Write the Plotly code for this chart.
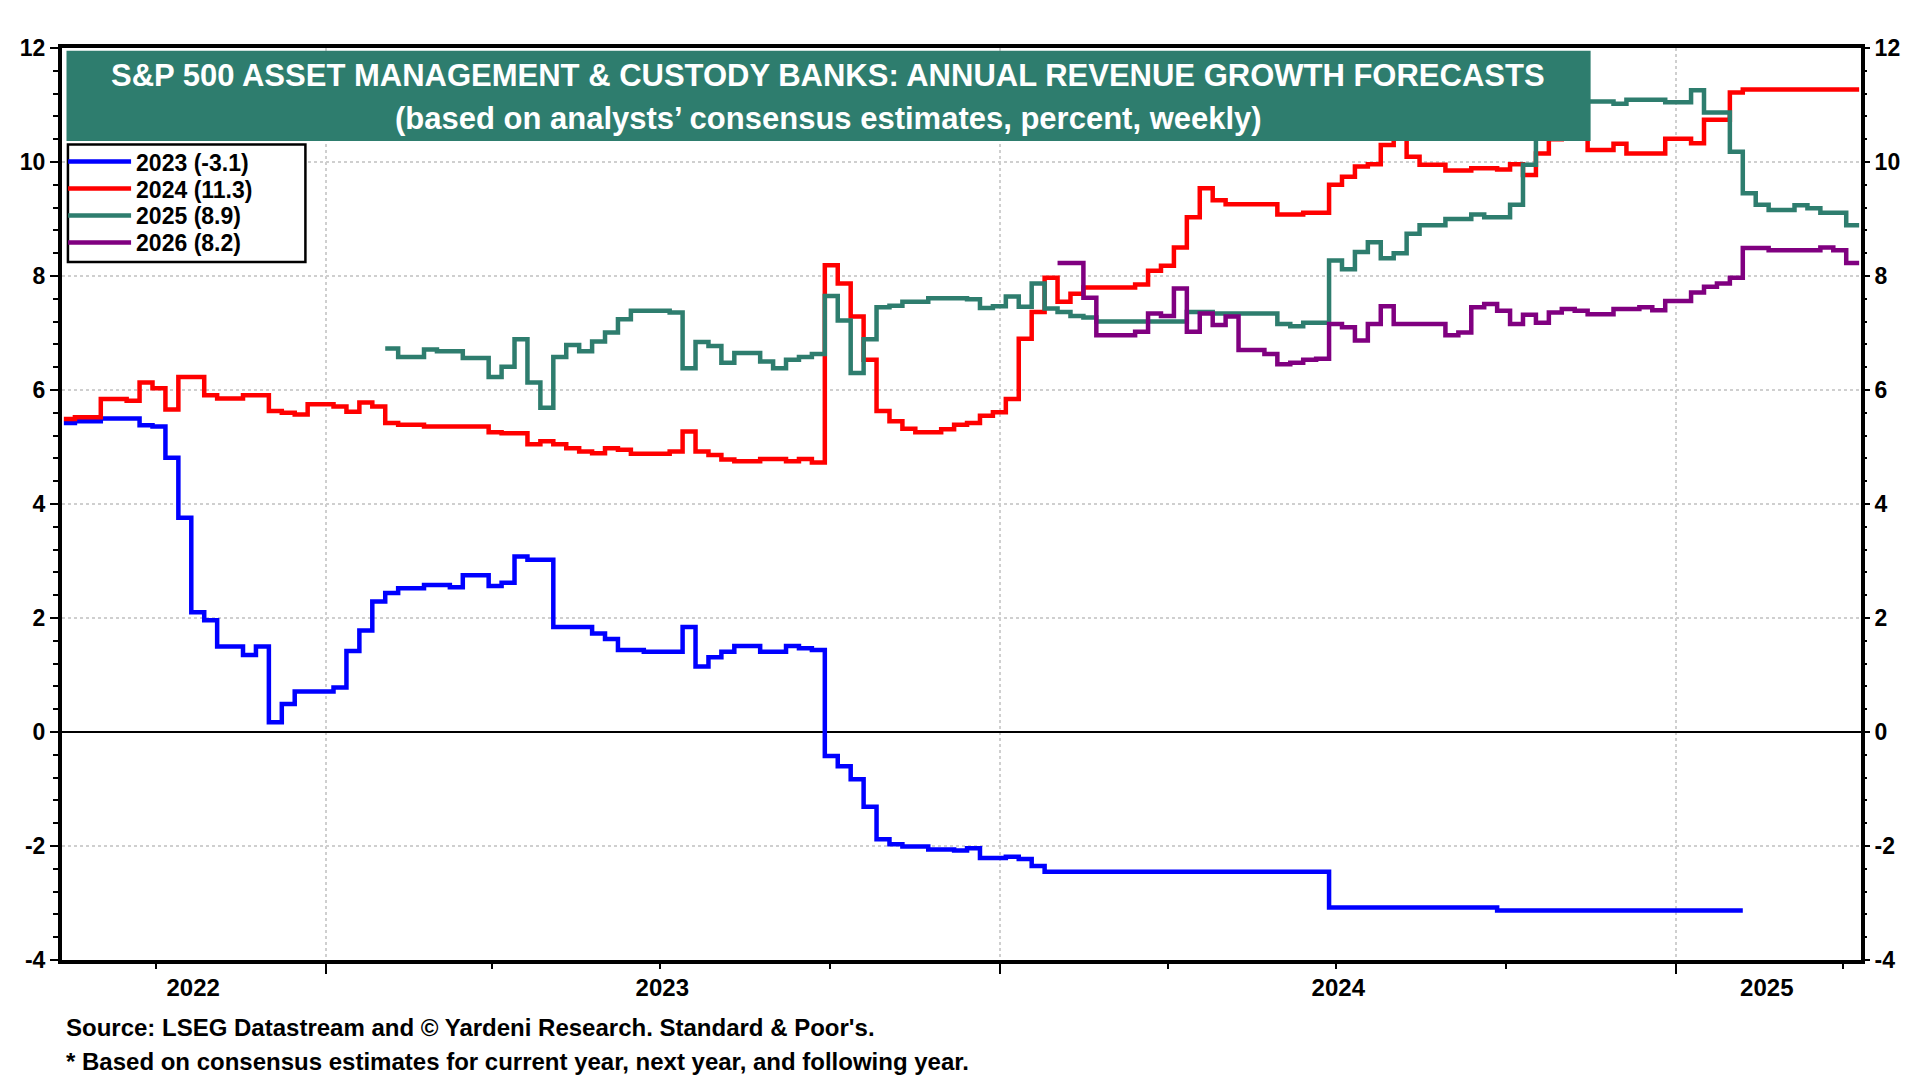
import plotly.graph_objects as go

# ---------------- data (weekly forecasts, change points) ----------------
blue_dates = ["2022-08-12", "2022-08-18", "2022-09-01", "2022-09-22", "2022-09-29", "2022-10-06",
              "2022-10-13", "2022-10-20", "2022-10-27", "2022-11-03", "2022-11-17", "2022-11-24",
              "2022-12-01", "2022-12-08", "2022-12-15", "2023-01-05", "2023-01-12", "2023-01-19",
              "2023-01-26", "2023-02-02", "2023-02-09", "2023-02-23", "2023-03-09", "2023-03-16",
              "2023-03-30", "2023-04-06", "2023-04-13", "2023-04-20", "2023-05-04", "2023-05-25",
              "2023-06-01", "2023-06-08", "2023-06-22", "2023-07-13", "2023-07-20", "2023-07-27",
              "2023-08-03", "2023-08-10", "2023-08-24", "2023-09-07", "2023-09-14", "2023-09-21",
              "2023-09-28", "2023-10-05", "2023-10-12", "2023-10-19", "2023-10-26", "2023-11-02",
              "2023-11-09", "2023-11-23", "2023-12-07", "2023-12-14", "2023-12-21", "2024-01-04",
              "2024-01-11", "2024-01-18", "2024-01-25", "2024-06-27", "2024-09-26", "2025-02-06"]
blue_vals = [5.42, 5.45, 5.50, 5.38, 5.36, 4.81,
             3.76, 2.10, 1.96, 1.50, 1.35, 1.50,
             0.17, 0.49, 0.71, 0.78, 1.42, 1.78,
             2.29, 2.44, 2.52, 2.58, 2.54, 2.75,
             2.56, 2.62, 3.08, 3.02, 1.84, 1.73,
             1.63, 1.44, 1.41, 1.84, 1.15, 1.31,
             1.41, 1.51, 1.41, 1.51, 1.47, 1.44,
             -0.42, -0.60, -0.83, -1.31, -1.88, -1.97,
             -2.01, -2.06, -2.08, -2.04, -2.21, -2.19,
             -2.23, -2.35, -2.45, -3.08, -3.13, -3.13]

red_dates = ["2022-08-12", "2022-08-18", "2022-09-01", "2022-09-15", "2022-09-22", "2022-09-29",
             "2022-10-06", "2022-10-13", "2022-10-27", "2022-11-03", "2022-11-17", "2022-12-01",
             "2022-12-08", "2022-12-15", "2022-12-22", "2023-01-05", "2023-01-12", "2023-01-19",
             "2023-01-26", "2023-02-02", "2023-02-09", "2023-02-23", "2023-03-30", "2023-04-06",
             "2023-04-20", "2023-04-27", "2023-05-04", "2023-05-11", "2023-05-18", "2023-05-25",
             "2023-06-01", "2023-06-08", "2023-06-15", "2023-07-06", "2023-07-13", "2023-07-20",
             "2023-07-27", "2023-08-03", "2023-08-10", "2023-08-24", "2023-09-07", "2023-09-14",
             "2023-09-21", "2023-09-28", "2023-10-05", "2023-10-12", "2023-10-19", "2023-10-26",
             "2023-11-02", "2023-11-09", "2023-11-16", "2023-11-30", "2023-12-07", "2023-12-14",
             "2023-12-21", "2023-12-28", "2024-01-04", "2024-01-11", "2024-01-18", "2024-01-25",
             "2024-02-01", "2024-02-08", "2024-02-15", "2024-03-14", "2024-03-21", "2024-03-28",
             "2024-04-04", "2024-04-11", "2024-04-18", "2024-04-25", "2024-05-02", "2024-05-30",
             "2024-06-13", "2024-06-27", "2024-07-04", "2024-07-11", "2024-07-18", "2024-07-25",
             "2024-08-01", "2024-08-08", "2024-08-15", "2024-08-29", "2024-09-12", "2024-09-26",
             "2024-10-03", "2024-10-10", "2024-10-17", "2024-10-24", "2024-10-31", "2024-11-14",
             "2024-11-28", "2024-12-05", "2024-12-26", "2025-01-09", "2025-01-16", "2025-01-30",
             "2025-02-06", "2025-04-10"]
red_vals = [5.49, 5.52, 5.84, 5.81, 6.13, 6.03,
            5.66, 6.23, 5.91, 5.85, 5.91, 5.63,
            5.60, 5.57, 5.75, 5.71, 5.62, 5.78,
            5.71, 5.42, 5.39, 5.36, 5.26, 5.24,
            5.05, 5.10, 5.05, 4.98, 4.92, 4.89,
            4.98, 4.95, 4.88, 4.92, 5.27, 4.92,
            4.86, 4.78, 4.75, 4.79, 4.75, 4.79,
            4.73, 8.19, 7.87, 7.29, 6.53, 5.63,
            5.45, 5.32, 5.26, 5.31, 5.39, 5.42,
            5.55, 5.61, 5.84, 6.90, 7.37, 7.97,
            7.55, 7.69, 7.80, 7.85, 8.09, 8.18,
            8.50, 9.03, 9.54, 9.33, 9.26, 9.08,
            9.11, 9.60, 9.74, 9.92, 9.96, 10.30,
            10.80, 10.09, 9.95, 9.85, 9.89, 9.87,
            9.96, 9.77, 10.15, 10.40, 10.45, 10.21,
            10.32, 10.15, 10.41, 10.33, 10.74, 11.22,
            11.27, 11.27]

green_dates = ["2023-02-02", "2023-02-09", "2023-02-23", "2023-03-02", "2023-03-16", "2023-03-30",
               "2023-04-06", "2023-04-13", "2023-04-20", "2023-04-27", "2023-05-04", "2023-05-11",
               "2023-05-18", "2023-05-25", "2023-06-01", "2023-06-08", "2023-06-15", "2023-07-06",
               "2023-07-13", "2023-07-20", "2023-07-27", "2023-08-03", "2023-08-10", "2023-08-24",
               "2023-08-31", "2023-09-07", "2023-09-14", "2023-09-21", "2023-09-28", "2023-10-05",
               "2023-10-12", "2023-10-19", "2023-10-26", "2023-11-02", "2023-11-09", "2023-11-23",
               "2023-12-14", "2023-12-21", "2023-12-28", "2024-01-04", "2024-01-11", "2024-01-18",
               "2024-01-25", "2024-02-01", "2024-02-08", "2024-02-15", "2024-02-22", "2024-04-11",
               "2024-04-25", "2024-05-30", "2024-06-06", "2024-06-13", "2024-06-27", "2024-07-04",
               "2024-07-11", "2024-07-18", "2024-07-25", "2024-08-01", "2024-08-08", "2024-08-15",
               "2024-08-29", "2024-09-12", "2024-09-19", "2024-10-03", "2024-10-10", "2024-10-17",
               "2024-10-24", "2024-11-14", "2024-11-28", "2024-12-05", "2024-12-26", "2025-01-09",
               "2025-01-16", "2025-01-30", "2025-02-06", "2025-02-13", "2025-02-20", "2025-03-06",
               "2025-03-13", "2025-03-20", "2025-04-03", "2025-04-10"]
green_vals = [6.73, 6.58, 6.71, 6.68, 6.56, 6.23,
              6.41, 6.89, 6.13, 5.69, 6.58, 6.79,
              6.68, 6.85, 7.01, 7.24, 7.39, 7.36,
              6.38, 6.84, 6.77, 6.48, 6.65, 6.50,
              6.38, 6.53, 6.58, 6.63, 7.65, 7.22,
              6.30, 6.89, 7.45, 7.48, 7.55, 7.61,
              7.59, 7.44, 7.47, 7.64, 7.46, 7.87,
              7.43, 7.37, 7.30, 7.27, 7.20, 7.37,
              7.34, 7.16, 7.12, 7.18, 8.27, 8.12,
              8.42, 8.59, 8.31, 8.40, 8.74, 8.89,
              9.00, 9.08, 9.03, 9.25, 9.95, 10.60,
              11.00, 11.06, 11.02, 11.09, 11.05, 11.26,
              10.87, 10.18, 9.45, 9.25, 9.16, 9.24,
              9.19, 9.11, 8.89, 8.89]

purple_dates = ["2024-02-01", "2024-02-15", "2024-02-22", "2024-03-14", "2024-03-21", "2024-03-28",
                "2024-04-04", "2024-04-11", "2024-04-18", "2024-04-25", "2024-05-02", "2024-05-09",
                "2024-05-23", "2024-05-30", "2024-06-06", "2024-06-13", "2024-06-20", "2024-06-27",
                "2024-07-04", "2024-07-11", "2024-07-18", "2024-07-25", "2024-08-01", "2024-08-29",
                "2024-09-05", "2024-09-12", "2024-09-19", "2024-09-26", "2024-10-03", "2024-10-10",
                "2024-10-17", "2024-10-24", "2024-10-31", "2024-11-07", "2024-11-14", "2024-11-28",
                "2024-12-12", "2024-12-19", "2024-12-26", "2025-01-09", "2025-01-16", "2025-01-23",
                "2025-01-30", "2025-02-06", "2025-02-20", "2025-03-20", "2025-03-27", "2025-04-03",
                "2025-04-10"]
purple_vals = [8.23, 7.62, 6.96, 7.02, 7.34, 7.30,
               7.78, 7.02, 7.34, 7.14, 7.29, 6.70,
               6.63, 6.45, 6.48, 6.53, 6.55, 7.16,
               7.10, 6.87, 7.16, 7.47, 7.16, 6.96,
               7.01, 7.45, 7.51, 7.39, 7.16, 7.32,
               7.18, 7.36, 7.42, 7.39, 7.33, 7.42,
               7.45, 7.40, 7.56, 7.71, 7.81, 7.87,
               7.97, 8.49, 8.45, 8.50, 8.45, 8.23,
               8.23]

series_names = ["2023 (-3.1)", "2024 (11.3)", "2025 (8.9)", "2026 (8.2)"]
series_colors = ["#0000FF", "#FF0000", "#2E7D6E", "#800080"]

x_range = ["2022-08-11", "2025-04-11"]
year_starts = ["2023-01-01", "2024-01-01", "2025-01-01"]
year_label_pos = ["2022-10-21", "2023-07-02", "2024-07-02", "2025-02-19"]
year_labels = ["2022", "2023", "2024", "2025"]
y_range = [-4, 12]
y_ticks = [-4, -2, 0, 2, 4, 6, 8, 10, 12]
y_ticktext = ["-4", "-2", "0", "2", "4", "6", "8", "10", "12"]

title_line1 = "S&P 500 ASSET MANAGEMENT & CUSTODY BANKS: ANNUAL REVENUE GROWTH FORECASTS"
title_line2 = "(based on analysts\u2019 consensus estimates, percent, weekly)"
footer_line1 = "Source: LSEG Datastream and \u00a9 Yardeni Research. Standard & Poor's."
footer_line2 = "* Based on consensus estimates for current year, next year, and following year."

# ---------------- figure ----------------
FONT = "Liberation Sans, Arial, Helvetica, sans-serif"
TEAL = "#2E7D6E"
GRID = "#cfcfcf"

legend_ids = ["legend", "legend2", "legend3", "legend4"]
legend_rows_y = [0.8754, 0.8458, 0.8164, 0.7867]

fig = go.Figure()
all_dates = [blue_dates, red_dates, green_dates, purple_dates]
all_vals = [blue_vals, red_vals, green_vals, purple_vals]
for name, d, v, c, lg in zip(series_names, all_dates, all_vals, series_colors, legend_ids):
    fig.add_trace(go.Scatter(x=d, y=v, mode="lines", name=name, legend=lg,
                             line=dict(color=c, width=4.5, shape="hv"), hoverinfo="skip"))

# helper trace so that the secondary axes (right labels, centred year labels) render
fig.add_trace(go.Scatter(x=[x_range[0]], y=[None], xaxis="x2", yaxis="y2",
                         mode="lines", showlegend=False, hoverinfo="skip"))

tickfont = dict(family=FONT, size=23, color="black", weight="bold")
legend_font = dict(family=FONT, size=23, color="black", weight="bold")

legend_layout = {}
for lg, ly in zip(legend_ids, legend_rows_y):
    legend_layout[lg] = dict(x=0.0006, y=ly, xanchor="left", yanchor="middle",
                             bgcolor="rgba(0,0,0,0)", borderwidth=0,
                             font=legend_font, itemwidth=63)

fig.update_layout(
    width=1912, height=1072,
    margin=dict(l=50, r=59, t=40, b=120),
    paper_bgcolor="white", plot_bgcolor="white",
    font=dict(family=FONT, color="black"),
    showlegend=True,
    **legend_layout,
    xaxis=dict(type="date", range=x_range, tickmode="array", tickvals=year_starts,
               ticktext=["", "", ""], ticks="outside", ticklen=10, tickwidth=2, tickcolor="black",
               showgrid=True, gridcolor=GRID, griddash="dot", gridwidth=2,
               showline=True, linewidth=4, linecolor="black", mirror=True, zeroline=False,
               minor=dict(tickmode="linear", tick0="2022-01-01", dtick="M3", ticks="outside",
                          ticklen=5, tickwidth=2, tickcolor="black", showgrid=False)),
    xaxis2=dict(type="date", range=x_range, overlaying="x", anchor="y", side="bottom",
                tickmode="array", tickvals=year_label_pos, ticktext=year_labels,
                ticks="", showgrid=False, showline=False, zeroline=False,
                tickfont=dict(family=FONT, size=24, color="black", weight="bold"),
                ticklabelstandoff=11),
    yaxis=dict(range=y_range, tickmode="array", tickvals=y_ticks, ticktext=y_ticktext,
               ticks="outside", ticklen=8, tickwidth=2, tickcolor="black", tickfont=tickfont,
               showgrid=True, gridcolor=GRID, griddash="dot", gridwidth=2,
               zeroline=True, zerolinecolor="black", zerolinewidth=1.5,
               showline=True, linewidth=4, linecolor="black", mirror=True,
               minor=dict(tickmode="linear", tick0=0, dtick=0.4, ticks="outside",
                          ticklen=5, tickwidth=2, tickcolor="black", showgrid=False)),
    yaxis2=dict(range=y_range, overlaying="y", anchor="x", side="right",
                tickmode="array", tickvals=y_ticks, ticktext=y_ticktext,
                ticks="outside", ticklen=8, tickwidth=2, tickcolor="black", tickfont=tickfont,
                showgrid=False, zeroline=False, showline=False,
                minor=dict(tickmode="linear", tick0=0, dtick=0.4, ticks="outside",
                           ticklen=5, tickwidth=2, tickcolor="black", showgrid=False)),
)

# title banner
fig.add_shape(type="rect", xref="paper", yref="paper",
              x0=0.0025, x1=0.8497, y0=0.898, y1=0.997,
              fillcolor=TEAL, line=dict(width=0), layer="above")
# legend frame
fig.add_shape(type="rect", xref="paper", yref="paper",
              x0=0.0033, x1=0.1353, y0=0.7654, y1=0.8942,
              fillcolor="white", line=dict(color="black", width=2.5), layer="above")

fig.add_annotation(text=title_line1, xref="paper", yref="paper", x=0.426, y=0.970,
                   xanchor="center", yanchor="middle", showarrow=False,
                   font=dict(family=FONT, size=31, color="white", weight="bold"))
fig.add_annotation(text=title_line2, xref="paper", yref="paper", x=0.426, y=0.923,
                   xanchor="center", yanchor="middle", showarrow=False,
                   font=dict(family=FONT, size=31, color="white", weight="bold"))

# footer
fig.add_annotation(text=footer_line1, xref="paper", yref="paper", x=0.001, y=-0.0735,
                   xanchor="left", yanchor="middle", showarrow=False,
                   font=dict(family=FONT, size=24, color="black", weight="bold"))
fig.add_annotation(text=footer_line2, xref="paper", yref="paper", x=0.001, y=-0.1115,
                   xanchor="left", yanchor="middle", showarrow=False,
                   font=dict(family=FONT, size=24, color="black", weight="bold"))

fig.write_html("out.html")
